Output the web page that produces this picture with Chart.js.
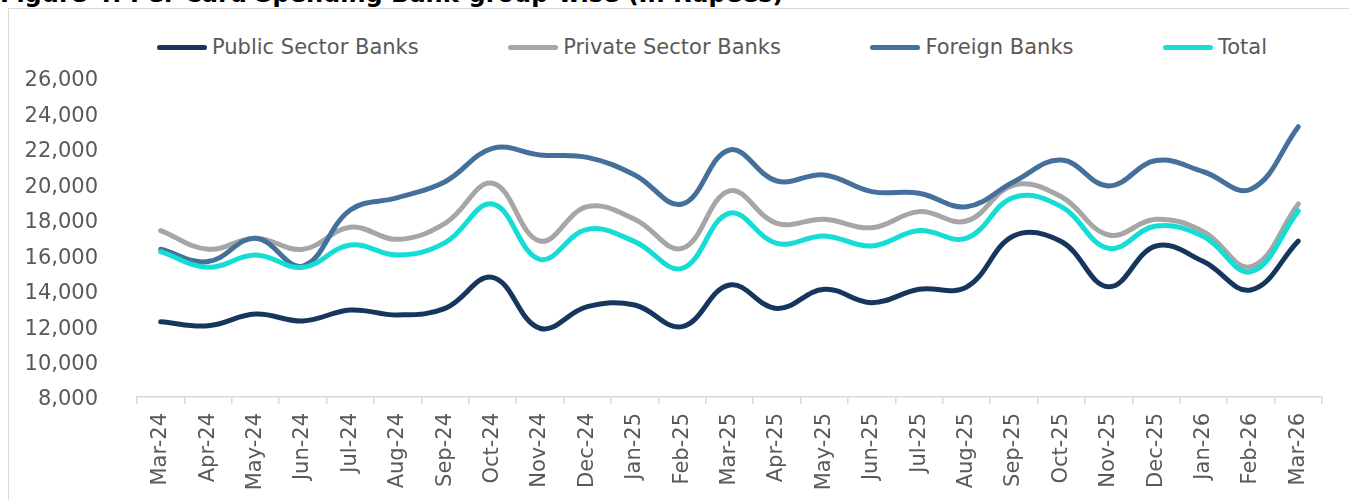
<!DOCTYPE html>
<html>
<head>
<meta charset="utf-8">
<script src="https://cdn.jsdelivr.net/npm/chart.js@4"></script>
<style>
  html, body { margin: 0; padding: 0; background: #fff; overflow: hidden; }
  body { width: 1349px; height: 500px; position: relative; font-family: "DejaVu Sans", sans-serif; }
  #title { position: absolute; left: 0; top: -20px; font-size: 24px; font-weight: bold; color: #000; white-space: nowrap; }
  #frame { position: absolute; left: 8px; top: 8px; width: 2000px; height: 1000px; border: 1px solid #d9d9d9; }
  #legend { position: absolute; left: 157px; width: 1110px; top: 35px; display: flex; justify-content: space-between; font-size: 21px; color: #595959; }
  #legend .item { display: flex; align-items: center; white-space: nowrap; }
  #legend .swatch { width: 50px; height: 5px; border-radius: 3px; margin-right: 5px; }
  #wrap { position: absolute; left: 0; top: 0; width: 1349px; height: 500px; }
</style>
</head>
<body>
<div id="title">Figure 4: Per Card Spending Bank-group-wise (In Rupees)</div>
<div id="frame"></div>
<div id="legend"></div>
<div id="wrap"><canvas id="cardChart"></canvas></div>
<script>
// 月ラベル
const months = ['Mar-24', 'Apr-24', 'May-24', 'Jun-24', 'Jul-24', 'Aug-24', 'Sep-24', 'Oct-24', 'Nov-24', 'Dec-24', 'Jan-25', 'Feb-25',
    'Mar-25', 'Apr-25', 'May-25', 'Jun-25', 'Jul-25', 'Aug-25', 'Sep-25', 'Oct-25', 'Nov-25', 'Dec-25', 'Jan-26', 'Feb-26', 'Mar-26'];

// 系列データ
const publicSector = [12250, 12020, 12680, 12290, 12910, 12630, 13000, 14750, 11880, 13100, 13190, 11970,
    14320, 13000, 14080, 13320, 14080, 14200, 17100, 16770, 14220, 16520, 15640, 14040, 16800];
const privateSector = [17390, 16340, 16960, 16340, 17580, 16900, 17800, 20060, 16800, 18740, 18030, 16390,
    19630, 17800, 18030, 17550, 18460, 17930, 19960, 19300, 17140, 18030, 17330, 15350, 18890];
const foreignBanks = [16340, 15640, 16960, 15390, 18550, 19250, 20150, 22030, 21660, 21520, 20530, 18890,
    21940, 20190, 20530, 19590, 19500, 18740, 20150, 21370, 19910, 21340, 20710, 19720, 23250];
const totalAll = [16200, 15320, 16010, 15320, 16580, 16010, 16710, 18890, 15770, 17460, 16770, 15260,
    18370, 16670, 17090, 16520, 17390, 16960, 19270, 18740, 16390, 17650, 17050, 15070, 18500];

// y軸の目盛り
const yMin = 8000;
const yMax = 26000;
const yStep = 2000;

const seriesNames = ['Public Sector Banks', 'Private Sector Banks', 'Foreign Banks', 'Total'];
const seriesColors = ['#17365d', '#a6a6a6', '#44709b', '#14ddd6'];
const seriesData = [publicSector, privateSector, foreignBanks, totalAll];

const textColor = '#595959';
const fontSpec = { family: '"DejaVu Sans", sans-serif', size: 21 };

const datasets = seriesNames.map((name, i) => ({
    label: name,
    data: seriesData[i],
    borderColor: seriesColors[i],
    backgroundColor: seriesColors[i],
    borderWidth: 5,
    tension: 0.4,
    pointRadius: 0,
    fill: false,
    borderCapStyle: 'round',
    borderJoinStyle: 'round',
    order: seriesNames.length - 1 - i   // 後の系列を上に描く
}));

const ctx = document.getElementById('cardChart').getContext('2d');
const cardChart = new Chart(ctx, {
    type: 'line',
    data: { labels: months, datasets: datasets },
    options: {
        responsive: true,
        maintainAspectRatio: false,
        animation: false,
        layout: { padding: { top: 78, right: 27, bottom: 0, left: 0 } },
        plugins: {
            legend: { display: false },
            tooltip: { enabled: false }
        },
        scales: {
            x: {
                offset: true,
                grid: { display: true, drawOnChartArea: false, drawTicks: true, tickLength: 7, color: '#d9d9d9', offset: true, lineWidth: 1.5 },
                border: { display: true, color: '#d9d9d9', width: 1.5 },
                ticks: { color: textColor, font: fontSpec, minRotation: 90, maxRotation: 90, padding: 9, autoSkip: false },
                afterFit: scale => { scale.height = 103; }
            },
            y: {
                min: yMin,
                max: yMax,
                grid: { display: false },
                border: { display: false },
                ticks: {
                    stepSize: yStep,
                    color: textColor,
                    font: fontSpec,
                    padding: 31,
                    labelOffset: 3,
                    callback: v => v.toLocaleString('en-US')
                },
                afterFit: scale => { scale.width = 137; }
            }
        }
    }
});

// 凡例 (HTML)
document.getElementById('legend').innerHTML = cardChart.data.datasets.map(ds => `
    <div class="item"><span class="swatch" style="background:${ds.borderColor}"></span>${ds.label}</div>
`).join('');
</script>
</body>
</html>
